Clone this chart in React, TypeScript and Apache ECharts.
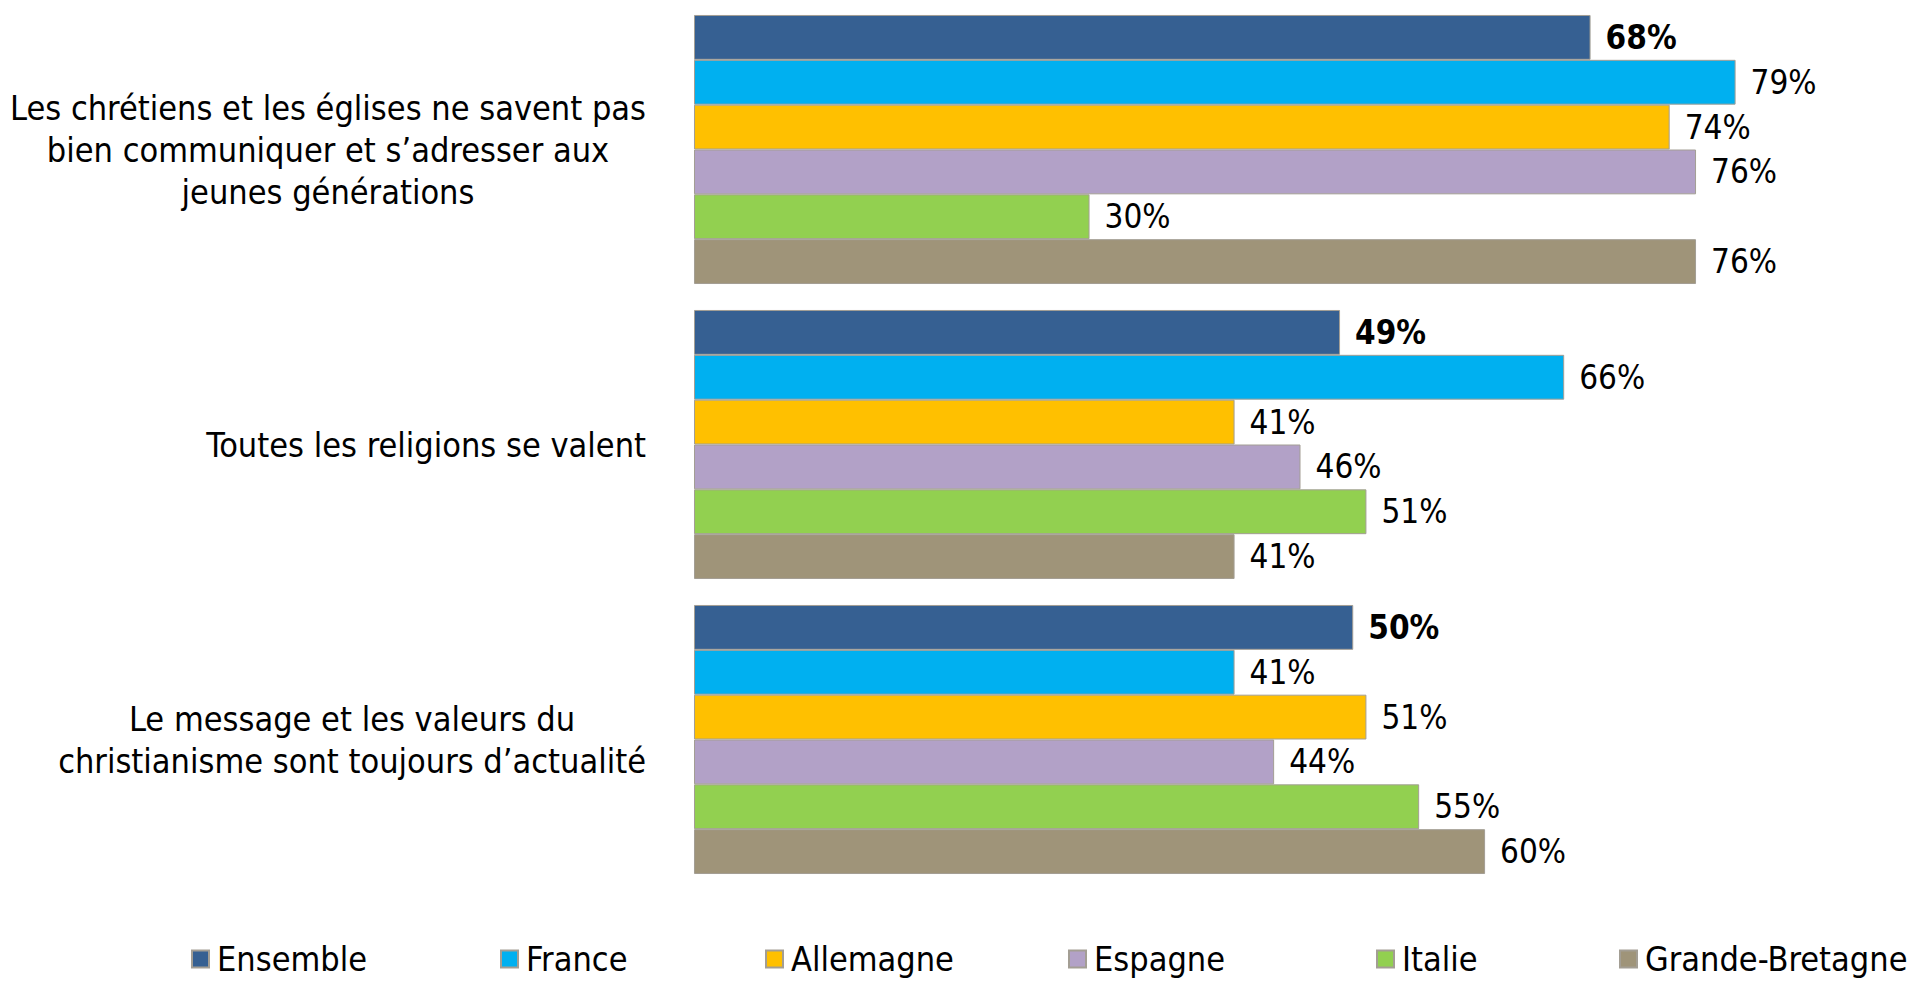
import React, { useEffect, useRef } from "react";
import * as echarts from "echarts";

const categories = [
  "Les chrétiens et les églises ne savent pas\nbien communiquer et s’adresser aux\njeunes générations",
  "Toutes les religions se valent",
  "Le message et les valeurs du\nchristianisme sont toujours d’actualité",
];

const seriesNames = ["Ensemble", "France", "Allemagne", "Espagne", "Italie", "Grande-Bretagne"];
const ensemble = [68, 49, 50];
const france = [79, 66, 41];
const allemagne = [74, 41, 51];
const espagne = [76, 46, 44];
const italie = [30, 51, 55];
const grandeBretagne = [76, 41, 60];
const seriesValues = [ensemble, france, allemagne, espagne, italie, grandeBretagne];
const colors = ["#366092", "#00B0F0", "#FFC000", "#B2A1C7", "#92D050", "#9F9479"];
const legendLefts = [191, 500, 765, 1068, 1376, 1619];

const FONT = "'DejaVu Sans Condensed', 'Liberation Sans', sans-serif";

export default function App() {
  const ref = useRef<HTMLDivElement>(null);
  useEffect(() => {
    document.body.style.margin = "0";
    if (!ref.current) return;
    const chart = echarts.init(ref.current, null, { renderer: "svg" });
    const series = seriesNames.map((name, i) => ({
      name,
      type: "bar",
      data: seriesValues[i],
      barGap: "0%",
      barCategoryGap: "8.8%",
      itemStyle: { color: colors[i], borderColor: "#a39e94", borderWidth: 1 },
      label: {
        show: true,
        position: "right",
        distance: 15,
        formatter: "{c}%",
        fontFamily: FONT,
        fontSize: 33,
        color: "#000",
        fontWeight: i === 0 ? "bold" : "normal",
      },
    }));
    const legends = seriesNames.map((name, i) => ({
      data: [name],
      left: legendLefts[i],
      top: 942,
      itemWidth: 17,
      itemHeight: 17,
      itemGap: 8,
      padding: 0,
      icon: "rect",
      textStyle: { fontFamily: FONT, fontSize: 34, color: "#000", padding: [0, 0, 0, 3] },
    }));
    chart.setOption({
      animation: false,
      backgroundColor: "#fff",
      grid: { left: 694, right: 5, top: 2, bottom: 94, containLabel: false, outerBoundsMode: "none" },
      xAxis: {
        type: "value",
        min: 0,
        max: 92,
        show: false,
      },
      yAxis: {
        type: "category",
        inverse: true,
        data: categories,
        axisLine: { show: false },
        axisTick: { show: false },
        axisLabel: {
          margin: 48,
          align: "right",
          formatter: (v: string) => v.split("\n").map((l) => `{c|${l}}`).join("\n"),
          rich: {
            c: { align: "center", fontFamily: FONT, fontSize: 34, lineHeight: 42, color: "#000" },
          },
        },
      },
      legend: legends,
      series,
    });
    return () => chart.dispose();
  }, []);
  return <div ref={ref} style={{ width: 1912, height: 981 }} />;
}
